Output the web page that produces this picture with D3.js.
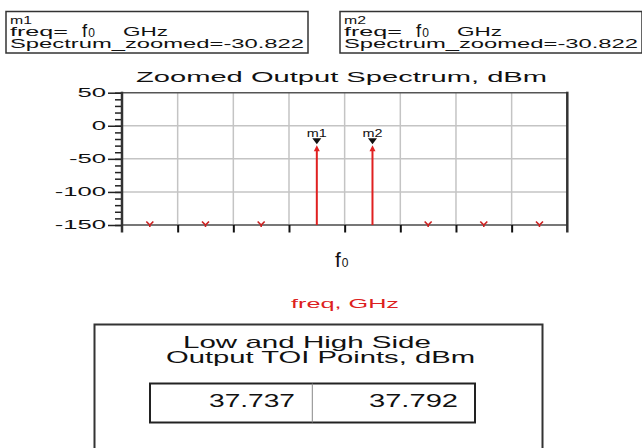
<!DOCTYPE html>
<html><head><meta charset="utf-8">
<script src="https://cdn.jsdelivr.net/npm/d3@7"></script>
<style>
html,body{margin:0;padding:0;background:#fff;}
svg{display:block;}
text{font-family:"Liberation Sans",Arial,sans-serif;}
</style></head>
<body>
<script>
// ---- data ----
const chartTitle = "Zoomed Output Spectrum, dBm";
const xAxisTitle = "freq, GHz";
const xCenterLabel = ["f", "0"];
const slotIndex = [0, 1, 2, 3, 4, 5, 6, 7];
const spectrumValues = [-150, -150, -150, -30.822, -30.822, -150, -150, -150];
const markerNames = ["m1", "m2"];
const markerSlots = [3, 4];
const markerValues = [-30.822, -30.822];
const yTicks = [50, 0, -50, -100, -150];
const yDomain = [-150, 50];
const xDomain = [0, 8];
const toiTitle = ["Low and High Side", "Output TOI Points, dBm"];
const toiValues = ["37.737", "37.792"];

const W = 642, H = 448;
const svg = d3.select("body").append("svg").attr("width", W).attr("height", H);

const loc = d3.formatLocale({decimal: ".", thousands: ",", grouping: [3], currency: ["", ""], minus: "-"});
const fmt3 = loc.format(".3f");
const fmtInt = loc.format("d");

const L = 122, R = 567.3, T = 92.7, B = 225;
const x = d3.scaleLinear().domain(xDomain).range([L, R]);
const y = d3.scaleLinear().domain(yDomain).range([B, T]);

function stext(g, str, px, py, size, len, anchor, color) {
  const t = g.append("text").attr("x", px).attr("y", py)
    .attr("font-size", size).attr("fill", color || "#111")
    .attr("text-anchor", anchor || "start")
    .text(str);
  if (len) t.attr("textLength", len).attr("lengthAdjust", "spacingAndGlyphs");
  return t;
}

// ---- marker readout boxes ----
markerNames.forEach((m, i) => {
  const ox = i === 0 ? 6 : 340;
  const g = svg.append("g").attr("transform", `translate(${ox},0)`);
  g.append("rect").attr("x", 0).attr("y", 11.5).attr("width", 302).attr("height", 41.5)
    .attr("fill", "none").attr("stroke", "#333").attr("stroke-width", 1.5);
  stext(g, m, 4, 24, 11.5, 22);
  stext(g, "freq=", 4, 36.3, 12.5, 58);
  const f = g.append("text").attr("x", 76).attr("y", 36.5)
    .attr("font-family", "'Liberation Sans Narrow','Roboto',sans-serif").attr("fill", "#111");
  f.append("tspan").attr("font-size", 18.5).text(xCenterLabel[0]);
  f.append("tspan").attr("font-size", 12).attr("dx", 1).text(xCenterLabel[1]);
  stext(g, "GHz", 117, 36.3, 12.5, 45);
  stext(g, "Spectrum_zoomed=" + fmt3(markerValues[i]), 4, 47.7, 12.5, 294);
});

// ---- title ----
stext(svg, chartTitle, 136, 82, 14.5, 411);

// ---- grid ----
const grid = svg.append("g");
grid.selectAll("line.v").data(d3.range(1, 8)).join("line")
  .attr("x1", d => x(d)).attr("x2", d => x(d)).attr("y1", T).attr("y2", B)
  .attr("stroke", "#c4c4c4").attr("stroke-width", 1.5);
grid.selectAll("line.h").data([0, -50, -100]).join("line")
  .attr("x1", L).attr("x2", R).attr("y1", d => y(d)).attr("y2", d => y(d))
  .attr("stroke", "#c4c4c4").attr("stroke-width", 1.5);
svg.append("line").attr("x1", L).attr("x2", R).attr("y1", y(50)).attr("y2", y(50))
  .attr("stroke", "#555").attr("stroke-width", 1.5);
svg.append("line").attr("x1", L).attr("x2", R).attr("y1", y(-150)).attr("y2", y(-150))
  .attr("stroke", "#777").attr("stroke-width", 2);

// ---- y axis ----
const yMinor = svg.append("g").attr("transform", `translate(${L},0)`)
  .call(d3.axisLeft(y).tickValues(d3.range(-150, 51, 10)).tickSize(7).tickFormat(""));
yMinor.select(".domain").remove();
yMinor.selectAll("line").attr("stroke", "#222").attr("stroke-width", 1.5);

const yAx = svg.append("g").attr("transform", `translate(${L},0)`)
  .call(d3.axisLeft(y).tickValues(yTicks).tickSize(14).tickFormat(fmtInt));
yAx.select(".domain").remove();
yAx.selectAll("line").attr("stroke", "#222").attr("stroke-width", 1.5);
yAx.selectAll("text").attr("font-size", 12.5).attr("fill", "#111")
  .attr("font-family", "'Liberation Sans',Arial,sans-serif")
  .attr("x", -16 / 2.05).attr("dy", "0.3em")
  .attr("transform", "scale(2.05,1)");
svg.append("line").attr("x1", L).attr("x2", L).attr("y1", T - 1).attr("y2", B + 7.5)
  .attr("stroke", "#333").attr("stroke-width", 2.5);
svg.append("line").attr("x1", R).attr("x2", R).attr("y1", T - 1).attr("y2", B + 7.5)
  .attr("stroke", "#333").attr("stroke-width", 2.5);

// ---- x axis ----
const xAx = svg.append("g").attr("transform", `translate(0,${B})`)
  .call(d3.axisBottom(x).tickValues(d3.range(1, 8)).tickSize(7.5).tickFormat(""));
xAx.select(".domain").remove();
xAx.selectAll("line").attr("stroke", "#111").attr("stroke-width", 2);

const fl = svg.append("text").attr("x", x(4) - 3).attr("y", 266.5).attr("text-anchor", "middle")
  .attr("font-family", "'Liberation Sans Narrow','Roboto',sans-serif").attr("fill", "#111");
fl.append("tspan").attr("font-size", 21).text(xCenterLabel[0]);
fl.append("tspan").attr("font-size", 12).attr("dx", 1).text(xCenterLabel[1]);

stext(svg, xAxisTitle, 291, 307.5, 12.5, 108, "start", "#dd2020");

// ---- spectrum ----
const red = "#e02020";
const spec = svg.append("g");
slotIndex.forEach((s, i) => {
  const v = spectrumValues[i];
  const cx = x(s + 0.5);
  if (v > yDomain[0]) {
    spec.append("line").attr("x1", cx).attr("x2", cx).attr("y1", y(yDomain[0])).attr("y2", y(v) + 4)
      .attr("stroke", red).attr("stroke-width", 2);
    spec.append("path")
      .attr("d", `M${cx - 3},${y(v) + 5} L${cx},${y(v) - 1} L${cx + 3},${y(v) + 5} Z`)
      .attr("fill", red);
  } else {
    const py = y(v);
    spec.append("path")
      .attr("d", `M${cx - 3.5},${py - 3.5} L${cx},${py} L${cx + 3.5},${py - 3.5} M${cx},${py} L${cx},${py + 2}`)
      .attr("fill", "none").attr("stroke", "#cc2020").attr("stroke-width", 1.6);
  }
});

// ---- markers ----
markerNames.forEach((m, i) => {
  const cx = x(markerSlots[i] + 0.5);
  const py = y(markerValues[i]);
  svg.append("path")
    .attr("d", `M${cx - 4.5},${py - 8} L${cx + 4.5},${py - 8} L${cx},${py - 2} Z`)
    .attr("fill", "#111");
  stext(svg, m, cx, py - 9.5, 11.5, 20, "middle");
});

// ---- TOI box ----
const tb = svg.append("g");
tb.append("rect").attr("x", 94.5).attr("y", 324.5).attr("width", 448).attr("height", 140)
  .attr("fill", "none").attr("stroke", "#333").attr("stroke-width", 2);
stext(tb, toiTitle[0], 183, 348.3, 17, 248);
stext(tb, toiTitle[1], 166, 363.3, 17, 309);
tb.append("rect").attr("x", 150).attr("y", 383.5).attr("width", 325).attr("height", 39)
  .attr("fill", "none").attr("stroke", "#222").attr("stroke-width", 2);
tb.append("line").attr("x1", 312.3).attr("x2", 312.3).attr("y1", 383.5).attr("y2", 422.5)
  .attr("stroke", "#888").attr("stroke-width", 1);
stext(tb, toiValues[0], 295, 406.7, 17.5, 86, "end");
stext(tb, toiValues[1], 458, 406.7, 17.5, 89, "end");
</script>
</body></html>
